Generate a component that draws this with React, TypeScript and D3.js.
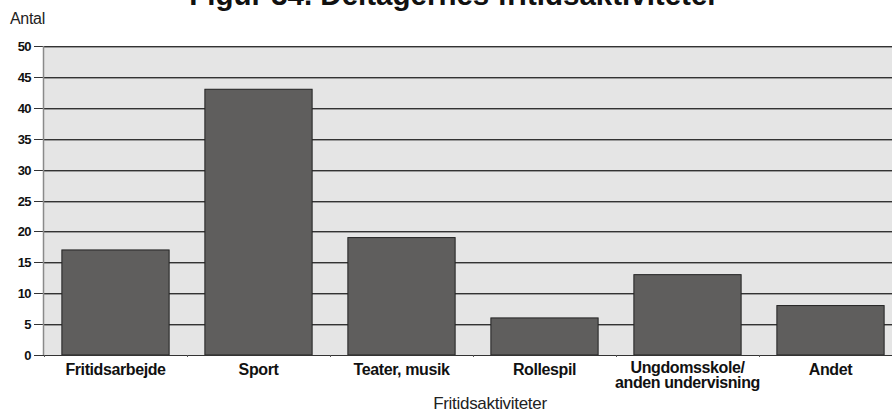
import React from "react";
import * as d3 from "d3";

const categories = ["Fritidsarbejde", "Sport", "Teater, musik", "Rollespil", "Ungdomsskole/\nanden undervisning", "Andet"];
const values = [17, 43, 19, 6, 13, 8];
const yTicks = [0, 5, 10, 15, 20, 25, 30, 35, 40, 45, 50];
const title = "Figur 34. Deltagernes fritidsaktiviteter";
const yTitle = "Antal";
const xTitle = "Fritidsaktiviteter";

const W = 892;
const H = 412;
const FONT = "'Liberation Sans', Arial, Helvetica, sans-serif";

export default function App() {
  const left = 44;
  const top = 46;
  const bottom = 355;
  const x = d3.scaleBand<string>().domain(categories).range([left, 902]).paddingInner(0.25).paddingOuter(0.125);
  const y = d3.scaleLinear().domain([0, 50]).range([bottom, top]);

  return (
    <svg width={W} height={H} style={{ position: "absolute", left: 0, top: 0, background: "#fff" }} fontFamily={FONT}>
      <rect x={left} y={top} width={W - left} height={bottom - top} fill="#e5e5e5" />
      {yTicks.map((t) => {
        const yy = Math.round(y(t));
        return (
          <g key={t}>
            {t > 0 && <line x1={left} x2={W} y1={yy + 0.5} y2={yy + 0.5} stroke="#333" />}
            {t > 0 && <line x1={left} x2={W} y1={yy + 1.5} y2={yy + 1.5} stroke="#9a9a9a" />}
            <line x1={34} x2={left} y1={yy + 0.5} y2={yy + 0.5} stroke="#333" />
            <text x={31} y={yy + 5} textAnchor="end" fontSize={13} fontWeight="bold" letterSpacing={-0.6} fill="#111">
              {t}
            </text>
          </g>
        );
      })}
      {categories.map((c, i) => {
        const x0 = x(c)!;
        const yy = y(values[i]);
        return (
          <rect key={c} x={x0} y={yy} width={x.bandwidth()} height={bottom - yy} fill="#5f5e5d" stroke="#222" strokeWidth={1} />
        );
      })}
      <line x1={left - 0.5} x2={left - 0.5} y1={top} y2={bottom} stroke="#8a8a8a" strokeWidth={1.5} />
      <line x1={left - 1} x2={W} y1={bottom + 0.5} y2={bottom + 0.5} stroke="#333" />
      {categories.map((c, i) => {
        const xb = left + i * x.step();
        return <line key={"t" + i} x1={xb + 0.5} x2={xb + 0.5} y1={bottom} y2={bottom + 2} stroke="#555" />;
      })}
      {categories.map((c) => {
        const cx = x(c)! + x.bandwidth() / 2;
        const lines = c.split("\n");
        return (
          <text key={"l" + c} x={cx} y={375} textAnchor="middle" fontSize={16} fontWeight="bold" letterSpacing={-0.4} fill="#111">
            {lines.map((ln, j) => (
              <tspan key={j} x={cx} y={lines.length > 1 ? 373 + j * 15 : 375}>
                {ln}
              </tspan>
            ))}
          </text>
        );
      })}
      <text x={490} y={409} textAnchor="middle" fontSize={17} letterSpacing={-0.3} fill="#222">
        {xTitle}
      </text>
      <text x={10} y={24} fontSize={16} letterSpacing={-0.3} fill="#222">
        {yTitle}
      </text>
      <text x={454} y={5} textAnchor="middle" fontSize={29.5} fontWeight="bold" fill="#111">
        {title}
      </text>
    </svg>
  );
}
